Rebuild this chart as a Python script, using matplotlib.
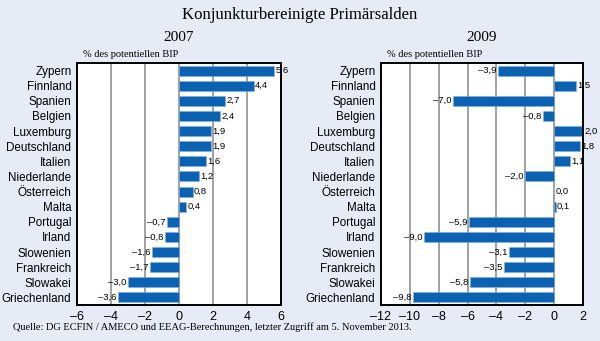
import matplotlib
matplotlib.use('Agg')

import numpy as np
import matplotlib.pyplot as plt

countries = ['Zypern', 'Finnland', 'Spanien', 'Belgien', 'Luxemburg', 'Deutschland',
             'Italien', 'Niederlande', 'Österreich', 'Malta', 'Portugal', 'Irland',
             'Slowenien', 'Frankreich', 'Slowakei', 'Griechenland']
values_2007 = [5.6, 4.4, 2.7, 2.4, 1.9, 1.9, 1.6, 1.2, 0.8, 0.4,
               -0.7, -0.8, -1.6, -1.7, -3.0, -3.6]
values_2009 = [-3.9, 1.5, -7.0, -0.8, 2.0, 1.8, 1.1, -2.0, 0.0, 0.1,
               -5.9, -9.0, -3.1, -3.5, -5.8, -9.8]

bg = '#e6ebf5'
bar_color = '#0b62b2'
serif = ['Liberation Serif', 'DejaVu Serif']
sans = ['Liberation Sans', 'DejaVu Sans']


def fmt(v):
    s = '%.1f' % abs(v)
    s = s.replace('.', ',')
    return ('\u2013' + s) if v < 0 else s


def draw_panel(ax, vals, xlim, ticks, year):
    y = np.arange(len(countries))
    unit = (xlim[1] - xlim[0]) / 12
    ax.set_facecolor('white')
    for t in ticks[1:-1]:
        ax.axvline(t, color='#9a9a9a', lw=1.3, zorder=0)
    ax.barh(y, vals, height=0.66, color=bar_color, edgecolor='#7fb0e0',
            linewidth=0.4, zorder=2)
    for yi, v in zip(y, vals):
        if v >= 0:
            ax.text(v + 0.08 * unit, yi, fmt(v), ha='left', va='center',
                    fontsize=6.8, family=sans, clip_on=False, zorder=3)
        else:
            ax.text(v - 0.1 * unit, yi, fmt(v), ha='right', va='center',
                    fontsize=6.8, family=sans, zorder=3)
    ax.set_xlim(xlim)
    ax.set_ylim(len(countries) - 0.5, -0.5)
    ax.set_xticks(ticks)
    ax.set_xticklabels([('\u2013%d' % -t) if t < 0 else '%d' % t for t in ticks],
                       family=sans, fontsize=9)
    ax.set_yticks(y)
    ax.set_yticklabels(countries, family=sans, fontsize=8.4)
    ax.tick_params(axis='y', length=0, pad=4)
    ax.tick_params(axis='x', length=0, pad=4)
    for sp in ax.spines.values():
        sp.set_linewidth(1.4)
        sp.set_color('black')
    ax.text(0.5, 1.105, year, transform=ax.transAxes, ha='center', va='center',
            fontsize=11, family=serif)
    ax.text(0.03, 1.037, '% des potentiellen BIP', transform=ax.transAxes,
            ha='left', va='center', fontsize=7.5, family=serif)


fig = plt.figure(figsize=(6, 3.41), dpi=100)
fig.patch.set_facecolor(bg)

ax1 = fig.add_axes([77 / 600, 1 - 305 / 341, 204 / 600, 242 / 341])
ax2 = fig.add_axes([381 / 600, 1 - 305 / 341, 202 / 600, 242 / 341])

draw_panel(ax1, values_2007, (-6, 6), [-6, -4, -2, 0, 2, 4, 6], '2007')
draw_panel(ax2, values_2009, (-12, 2), [-12, -10, -8, -6, -4, -2, 0, 2], '2009')

fig.text(0.5, 1 - 15 / 341, 'Konjunkturbereinigte Primärsalden', ha='center',
         va='center', fontsize=12, family=serif)
fig.text(13 / 600, 1 - 327 / 341,
         'Quelle: DG ECFIN / AMECO und EEAG-Berechnungen, letzter Zugriff am 5. November 2013.',
         ha='left', va='center', fontsize=7.5, family=serif)

fig.savefig('out.png', dpi=100, facecolor=bg)
plt.close(fig)
